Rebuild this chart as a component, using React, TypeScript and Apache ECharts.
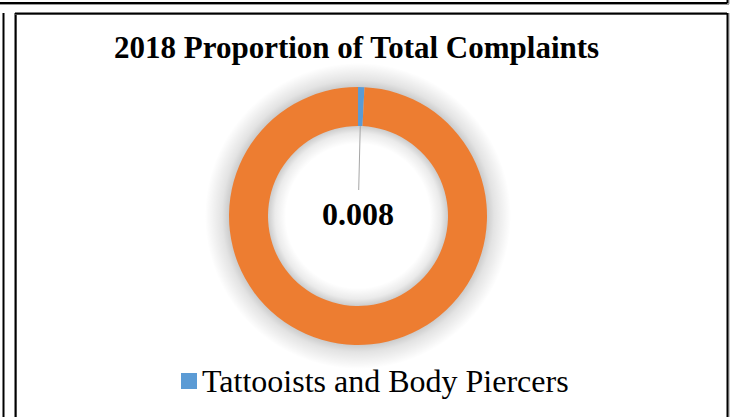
import React, { useEffect, useRef } from "react";
import * as echarts from "echarts";

const TITLE = "2018 Proportion of Total Complaints";
const categories = ["Tattooists and Body Piercers", "Other"];
const values = [0.008, 0.992];
const colors = ["#5B9BD5", "#ED7D31"];
const legendItems = ["Tattooists and Body Piercers"];

const CX = 358;
const CY = 216;
const R0 = 90;
const R1 = 129;

export default function App() {
  const ref = useRef<HTMLDivElement>(null);
  useEffect(() => {
    if (!ref.current) return;
    const chart = echarts.init(ref.current, null, { renderer: "svg" });
    const serif = "'Liberation Serif', 'Times New Roman', serif";
    const RS = R1 + 24;
    const shadow = new echarts.graphic.RadialGradient(
      CX,
      CY,
      RS,
      [
        { offset: (R0 - 18) / RS, color: "rgba(0,0,0,0)" },
        { offset: (R0 - 7) / RS, color: "rgba(0,0,0,0.08)" },
        { offset: R0 / RS, color: "rgba(0,0,0,0.2)" },
        { offset: R1 / RS, color: "rgba(0,0,0,0.2)" },
        { offset: (R1 + 7) / RS, color: "rgba(0,0,0,0.11)" },
        { offset: 1, color: "rgba(0,0,0,0)" },
      ],
      true
    );
    chart.setOption({
      animation: false,
      backgroundColor: "#ffffff",
      title: {
        text: TITLE,
        left: 109,
        top: 27,
        textStyle: { fontFamily: serif, fontWeight: "bold", fontSize: 31, color: "#000" },
      },
      legend: {
        data: legendItems,
        left: 176,
        top: 360,
        icon: "rect",
        itemWidth: 16,
        itemHeight: 16,
        textStyle: { fontFamily: serif, fontSize: 32, color: "#000" },
      },
      graphic: [
        { type: "line", shape: { x1: 0, y1: 4.5, x2: 729, y2: 4.5 }, style: { stroke: "#999", lineWidth: 1 } },
        { type: "line", shape: { x1: 0, y1: 3, x2: 727, y2: 3 }, style: { stroke: "#000", lineWidth: 2 } },
        { type: "line", shape: { x1: 729, y1: 0, x2: 729, y2: 4 }, style: { stroke: "#999", lineWidth: 1 } },
        { type: "line", shape: { x1: 727.5, y1: 0, x2: 727.5, y2: 3.5 }, style: { stroke: "#000", lineWidth: 2 } },
        { type: "line", shape: { x1: 3.5, y1: 13, x2: 3.5, y2: 417 }, style: { stroke: "#000", lineWidth: 2 } },
        { type: "line", shape: { x1: 16.5, y1: 14.5, x2: 16.5, y2: 417 }, style: { stroke: "#999", lineWidth: 1 } },
        { type: "line", shape: { x1: 15.5, y1: 13, x2: 15.5, y2: 417 }, style: { stroke: "#000", lineWidth: 2 } },
        { type: "line", shape: { x1: 15, y1: 14.5, x2: 728, y2: 14.5 }, style: { stroke: "#999", lineWidth: 1 } },
        { type: "line", shape: { x1: 15, y1: 13.5, x2: 727, y2: 13.5 }, style: { stroke: "#000", lineWidth: 2 } },
        { type: "line", shape: { x1: 729, y1: 13, x2: 729, y2: 417 }, style: { stroke: "#999", lineWidth: 1 } },
        { type: "line", shape: { x1: 727.5, y1: 13, x2: 727.5, y2: 417 }, style: { stroke: "#000", lineWidth: 2 } },
      ],
      series: [
        {
          type: "pie",
          name: "shadow",
          silent: true,
          z: 1,
          center: [CX, CY],
          radius: [R0 - 18, RS],
          label: { show: false },
          labelLine: { show: false },
          itemStyle: { color: shadow },
          data: [{ name: "_shadow", value: 1 }],
        },
        {
          type: "pie",
          z: 2,
          center: [CX, CY],
          radius: [R0, R1],
          startAngle: 90,
          clockwise: true,
          avoidLabelOverlap: false,
          label: {
            show: true,
            formatter: "{c}",
            fontFamily: serif,
            fontWeight: "bold",
            fontSize: 32,
            color: "#000",
          },
          labelLine: {
            show: true,
            lineStyle: { color: "#a6a6a6", width: 1 },
          },
          labelLayout: (params: any) => {
            if (params.dataIndex !== 0) return {};
            const v = values[0];
            const total = values.reduce((a, b) => a + b, 0);
            const mid = Math.PI / 2 - (v / total) * Math.PI;
            const rm = (R0 + R1) / 2 - 2;
            const ax = CX + rm * Math.cos(mid);
            const ay = CY - rm * Math.sin(mid);
            const h = params.labelRect ? params.labelRect.height : 30;
            const ly = CY - 2;
            return {
              x: CX,
              y: ly,
              align: "center",
              verticalAlign: "middle",
              labelLinePoints: [
                [ax, ay],
                [CX + 0.7, ly - h / 2 - 8],
                [CX + 0.7, ly - h / 2 - 8],
              ],
            };
          },
          data: categories.map((name, i) => ({
            name,
            value: values[i],
            itemStyle: { color: colors[i] },
            label: { show: i === 0 },
            labelLine: { show: i === 0 },
          })),
        },
      ],
    });
    return () => chart.dispose();
  }, []);
  return (
    <div
      ref={ref}
      style={{ position: "absolute", left: 0, top: 0, width: 736, height: 417 }}
    />
  );
}
